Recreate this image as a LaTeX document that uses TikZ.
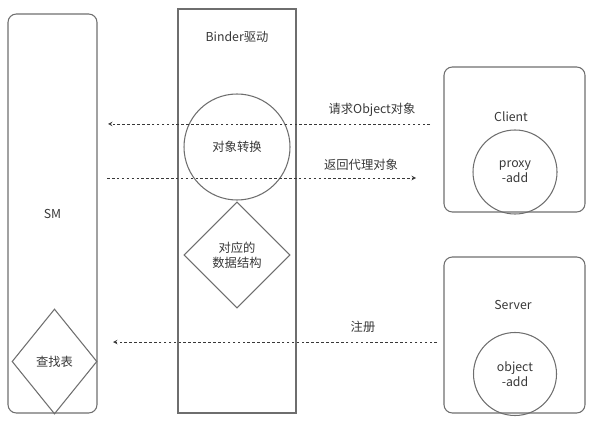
\documentclass[tikz,border=0pt]{standalone}
\usepackage{fontspec}
\setmainfont{Noto Sans CJK SC}
\usepackage{xcolor}
\usepackage{tikz}
\usetikzlibrary{shapes,arrows,positioning,calc}

\definecolor{linegray}{HTML}{6E6E6E}
\definecolor{textgray}{HTML}{383838}

\begin{document}
\begin{tikzpicture}[
    x=0.3mm, y=-0.3mm,
    every node/.style={text=textgray, font=\fontsize{10.5}{13}\selectfont},
    panel/.style={rectangle, draw=linegray, line width=0.9pt, rounded corners=2.5mm, inner sep=0pt},
    driver/.style={rectangle, draw=linegray, line width=0.9pt, inner sep=0pt},
    blob/.style={circle, draw=linegray, line width=0.9pt, inner sep=0pt, align=center},
    table/.style={diamond, draw=linegray, line width=0.9pt, inner sep=0pt, align=center},
    arrow/.style={->, >=stealth, draw=textgray, line width=0.7pt, dash pattern=on 2.2pt off 2pt}
]
    \useasboundingbox (0,0) rectangle (602,424);

    % SM side
    \node[panel, minimum width=26.7mm, minimum height=119.7mm] (sm) at (52.5,213.5) {SM};
    \node[table, minimum width=25.5mm, minimum height=31.5mm] (lookup) at (54.5,361.5) {查找表};

    % Binder driver
    \node[driver, minimum width=35.4mm, minimum height=121.2mm] (binder) at (237,211) {};
    \node (binderlabel) at (237,37) {Binder驱动};
    \node[blob, minimum size=31.8mm] (convert) at (237,147) {对象转换};
    \node[table, minimum width=31.8mm, minimum height=31.8mm] (data) at (237,255) {对应的\\数据结构};

    % Client
    \node[panel, minimum width=42.3mm, minimum height=43.5mm] (client) at (514.5,139.5) {};
    \node (clientlabel) at (511,117) {Client};
    \node[blob, minimum size=25.2mm] (proxy) at (515,172) {proxy\\-add};

    % Server
    \node[panel, minimum width=42.3mm, minimum height=46.8mm] (server) at (514.5,335) {};
    \node (serverlabel) at (513,305) {Server};
    \node[blob, minimum size=24.9mm] (object) at (515,374) {object\\-add};

    % arrow ends
    \coordinate (req-s) at (430,124);
    \coordinate (req-e) at (108,124);
    \coordinate (ret-s) at (107,178);
    \coordinate (ret-e) at (416,178);
    \coordinate (reg-s) at (437,342);
    \coordinate (reg-e) at (113,342);

    % Arrows
    \draw[arrow] (req-s) -- (req-e);
    \draw[arrow] (ret-s) -- (ret-e);
    \draw[arrow] (reg-s) -- (reg-e);

    % Labels
    \node (reqlabel) at (372,110) {请求Object对象};
    \node (retlabel) at (361,165) {返回代理对象};
    \node (reglabel) at (363,327) {注册};
\end{tikzpicture}
\end{document}
